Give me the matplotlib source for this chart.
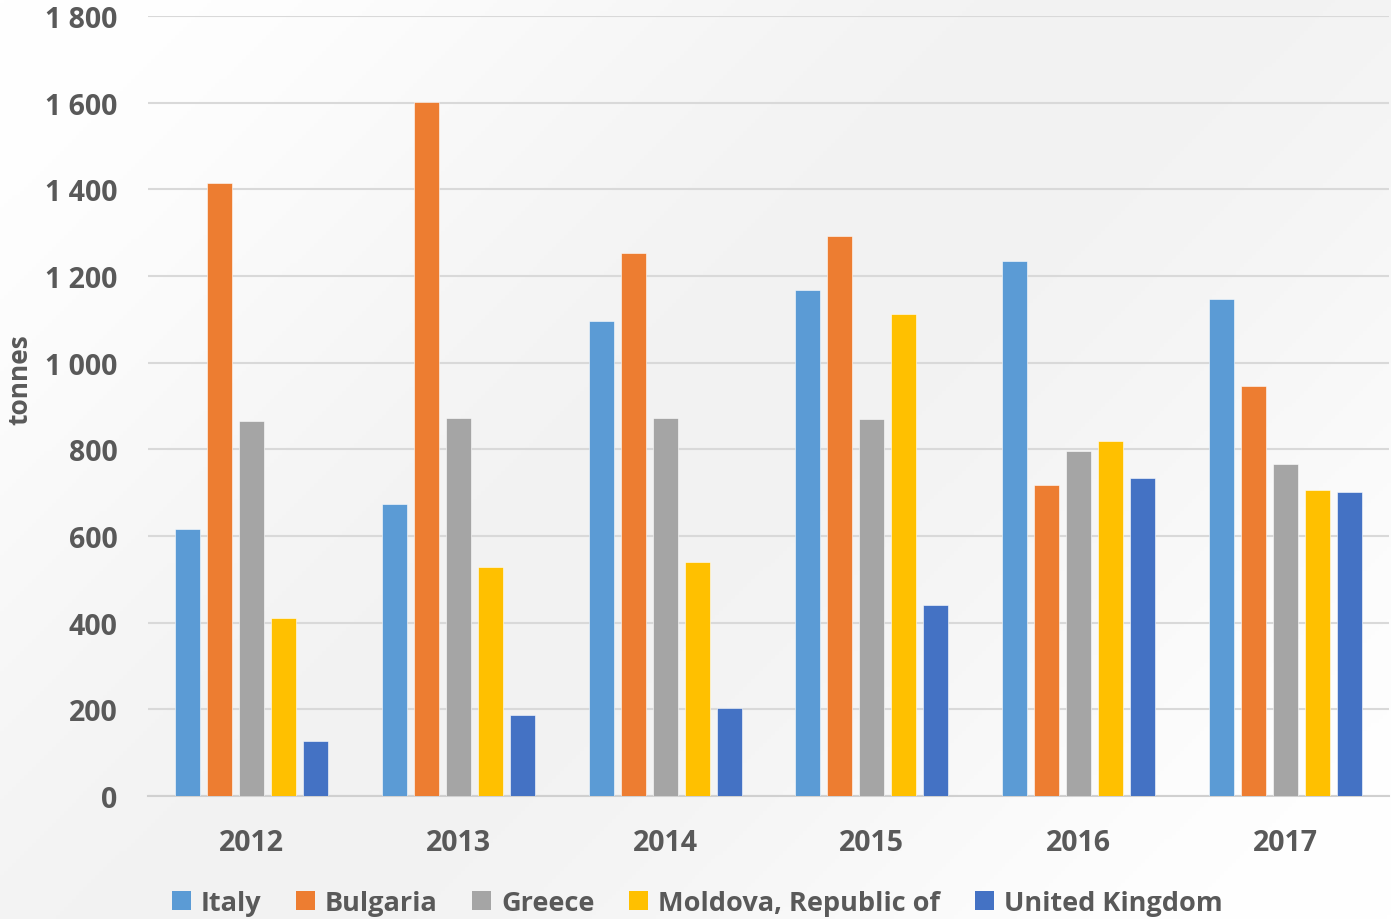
import numpy as np
import matplotlib
matplotlib.use("Agg")
import matplotlib.pyplot as plt
from matplotlib.patches import Patch

years = ["2012", "2013", "2014", "2015", "2016", "2017"]
series_names = ["Italy", "Bulgaria", "Greece", "Moldova, Republic of", "United Kingdom"]
italy = [616, 674, 1096, 1168, 1235, 1147]
bulgaria = [1415, 1602, 1253, 1292, 718, 946]
greece = [865, 872, 872, 870, 796, 766]
moldova = [411, 528, 540, 1112, 819, 706]
uk = [127, 187, 203, 441, 734, 702]
colors = ["#5B9BD5", "#ED7D31", "#A5A5A5", "#FFC000", "#4472C4"]
yticks = [0, 200, 400, 600, 800, 1000, 1200, 1400, 1600, 1800]
ytick_labels = ["0", "200", "400", "600", "800", "1 000", "1 200", "1 400", "1 600", "1 800"]

FONT = "Open Sans"
TXT = "#595959"

W, H = 1391, 920
fig = plt.figure(figsize=(W / 100, H / 100), dpi=100)

# background gradient (white top-left and bottom-right, light gray across the middle diagonal)
bg = fig.add_axes([0, 0, 1, 1], zorder=-10)
yy, xx = np.mgrid[0:1:230j, 0:1:350j]
t = (xx * W + yy * H) / (W + H)
g = 1.0 - 0.05 * np.sin(np.pi * t) ** 2
bg.imshow(np.dstack([g, g, g]), aspect="auto", extent=[0, 1, 0, 1], origin="upper")
bg.axis("off")

ax = fig.add_axes([148 / W, (H - 797) / H, (1389 - 148) / W, (797 - 17) / H])
ax.set_facecolor("none")

data = [italy, bulgaria, greece, moldova, uk]
x = np.arange(len(years))
step = 0.1546
width = 0.121
for i, (name, vals, c) in enumerate(zip(series_names, data, colors)):
    ax.bar(x + (i - 2) * step, vals, width=width, color=c, label=name,
           edgecolor="white", linewidth=0.4, zorder=3)

ax.set_xlim(-0.5, len(years) - 0.5)
ax.set_ylim(0, 1800)
ax.set_yticks(yticks)
ax.set_yticklabels(ytick_labels)
ax.set_xticks(x)
ax.set_xticklabels(years)
ax.grid(axis="y", color="#d9d9d9", linewidth=1.5, zorder=0)
ax.set_axisbelow(True)
for s in ["top", "right", "left"]:
    ax.spines[s].set_visible(False)
ax.spines["bottom"].set_color("#d0d0d0")
ax.spines["bottom"].set_linewidth(1.5)
ax.tick_params(axis="both", length=0, colors=TXT)
ax.tick_params(axis="y", pad=22)
ax.tick_params(axis="x", pad=23)
for lab in ax.get_yticklabels() + ax.get_xticklabels():
    lab.set_fontfamily(FONT)
    lab.set_fontweight("bold")
    lab.set_fontsize(20.5)
    lab.set_color(TXT)

fig.text(20 / W, 1 - 380 / H, "tonnes", rotation=90, ha="center", va="center",
         fontsize=19, fontweight="bold", color=TXT, fontfamily=FONT)

handles = [Patch(facecolor=c, edgecolor="none") for c in colors]
leg = fig.legend(handles, series_names, loc="center", bbox_to_anchor=(697 / W, 1 - 904 / H),
                 ncol=5, frameon=False, handlelength=0.7, handleheight=0.7,
                 handletextpad=0.35, columnspacing=1.3,
                 prop={"family": FONT, "weight": "bold", "size": 19.5})
for txt in leg.get_texts():
    txt.set_color(TXT)

fig.savefig("out.png", dpi=100)
